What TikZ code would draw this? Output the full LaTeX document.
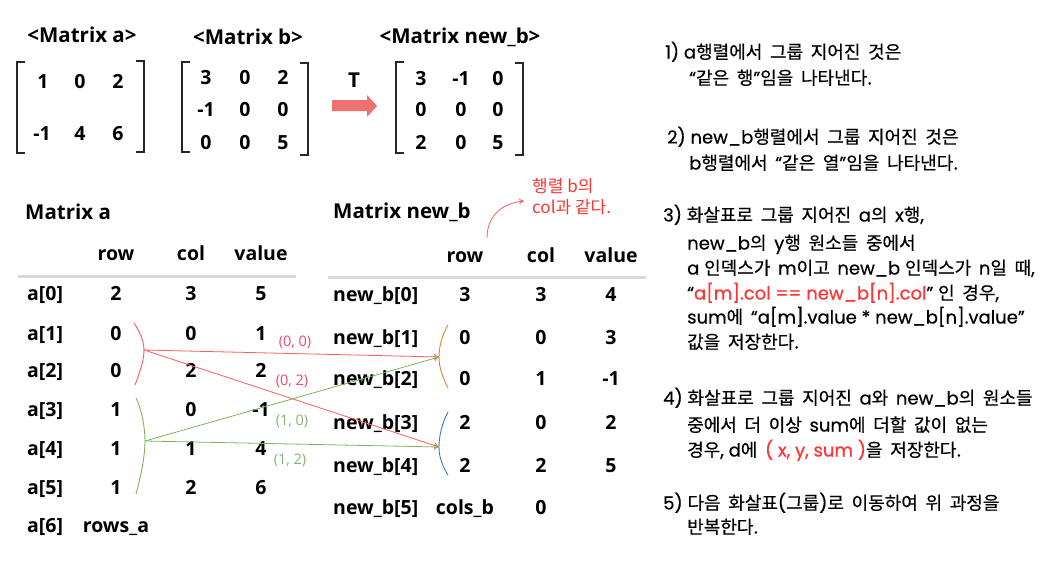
\documentclass[tikz,border=0pt]{standalone}
\usepackage{fontspec}
\usetikzlibrary{arrows.meta}
\newfontfamily\osfont{Open Sans}
\newfontfamily\krfont{Noto Sans CJK KR}
\newfontfamily\krbfont[FakeBold=0.5,WordSpace=1.9]{Noto Sans CJK KR}
\newfontfamily\latfont[FakeBold=0.5]{Poppins}
\definecolor{brk}{HTML}{262626}
\definecolor{tline}{HTML}{D9D9D9}
\definecolor{blockred}{HTML}{EE7070}
\definecolor{lred}{HTML}{FF5A5A}
\definecolor{lgreen}{HTML}{7DB356}
\definecolor{borange}{HTML}{ED7D31}
\definecolor{bblue}{HTML}{4472C4}
\definecolor{labred}{HTML}{F04868}
\definecolor{labgreen}{HTML}{86B27A}
\definecolor{txtred}{HTML}{FF3333}
\newcommand\TB{\osfont\bfseries\fontsize{19.5pt}{23pt}\selectfont}
\newcommand\HB{\osfont\bfseries\fontsize{20.5pt}{24pt}\selectfont}
\newcommand\RT{\latfont\fontsize{18pt}{22pt}\selectfont}
\newcommand\K[1]{{\krbfont #1}}
\newcommand\R[1]{{\color{txtred}#1}}
\tikzset{
  cell/.style={font=\TB, inner sep=0pt, text height=14pt, text depth=0pt, anchor=center},
  lcell/.style={cell, anchor=west},
  head/.style={font=\HB, inner sep=0pt, anchor=center},
  brk/.style={draw=brk, line width=2pt},
  tl/.style={draw=tline, line width=3pt},
  rline/.style={font=\RT, inner sep=0pt, anchor=base west},
  pairlab/.style={font=\osfont\fontsize{14.5pt}{17pt}\selectfont, inner sep=0pt, anchor=center},
  conn/.style={line width=0.8pt, -{To[length=5pt,width=6pt]}},
  brace/.style={line width=0.9pt},
}
\begin{document}
\begin{tikzpicture}[x=1pt,y=-1pt]
\useasboundingbox (0,0) rectangle (1054,565);
% ---------- matrices ----------
\node[head] (ha) at (82,35) {<Matrix a>};
\node[head] (hb) at (248,37) {<Matrix b>};
\node[head] (hn) at (460,37) {<Matrix new\_b>};
% matrix a
\draw[brk] (25,62) -- (17,62) -- (17,153) -- (25,153);
\draw[brk] (136,61) -- (144,61) -- (144,152) -- (136,152);
\node[cell] (ma11) at (43,81) {1};
\node[cell] (ma12) at (80,81) {0};
\node[cell] (ma13) at (118,81) {2};
\node[cell] (ma21) at (42,133) {-1};
\node[cell] (ma22) at (80,133) {4};
\node[cell] (ma23) at (118,133) {6};
% matrix b
\draw[brk] (190,62) -- (182,62) -- (182,152) -- (190,152);
\draw[brk] (300,63) -- (308,63) -- (308,155) -- (300,155);
\foreach \a/\b/\c/\y [count=\i] in {3/0/2/77,-1/0/0/109,0/0/5/142}{
  \node[cell] (mb\i1) at (206,\y) {\a};
  \node[cell] (mb\i2) at (245,\y) {\b};
  \node[cell] (mb\i3) at (283,\y) {\c};
}
% transpose arrow
\node[head] (T) at (354,80) {T};
\fill[blockred] (332,100) -- (367,100) -- (367,95) -- (377,106) -- (367,117) -- (367,111) -- (332,111) -- cycle;
% matrix new_b
\draw[brk] (404,62) -- (396,62) -- (396,153) -- (404,153);
\draw[brk] (515,63) -- (523,63) -- (523,155) -- (515,155);
\foreach \a/\b/\c/\y [count=\i] in {3/-1/0/78,0/0/0/109,2/0/5/142}{
  \node[cell] (mn\i1) at (421,\y) {\a};
  \node[cell] (mn\i2) at (461,\y) {\b};
  \node[cell] (mn\i3) at (498,\y) {\c};
}
% ---------- table a ----------
\node[head, anchor=west] (ta) at (25,212) {Matrix a};
\node[cell] (tarh) at (116,253) {row};
\node[cell] (tach) at (191,253) {col};
\node[cell] (tavh) at (261,253) {value};
\draw[tl] (18,276) -- (296,276);
\foreach \r/\c/\v/\y [count=\i from 0] in {2/3/5/293,0/0/1/333,0/2/2/370,1/0/-1/409,1/1/4/448,1/2/6/487}{
  \node[lcell] (al\i) at (27,\y) {a[\i]};
  \node[cell] (ar\i) at (116,\y) {\r};
  \node[cell] (ac\i) at (191,\y) {\c};
  \node[cell] (av\i) at (261,\y) {\v};
}
\node[lcell] (al6) at (27,525) {a[6]};
\node[cell] (ar6) at (116,525) {rows\_a};
% ---------- table new_b ----------
\node[head, anchor=west] (tn) at (333,212) {Matrix new\_b};
\node[cell] (tnrh) at (465,255) {row};
\node[cell] (tnch) at (541,255) {col};
\node[cell] (tnvh) at (611,255) {value};
\draw[tl] (328,277) -- (646,277);
\foreach \r/\c/\v/\y [count=\i from 0] in {3/3/4/294,0/0/3/337,0/1/-1/378,2/0/2/422,2/2/5/465}{
  \node[lcell] (nl\i) at (333,\y) {new\_b[\i]};
  \node[cell] (nr\i) at (465,\y) {\r};
  \node[cell] (nc\i) at (541,\y) {\c};
  \node[cell] (nv\i) at (611,\y) {\v};
}
\node[lcell] (nl5) at (333,507) {new\_b[5]};
\node[cell] (nr5) at (465,507) {cols\_b};
\node[cell] (nc5) at (541,507) {0};
% annotation
\node[font=\krfont\fontsize{17pt}{21pt}\selectfont, text=txtred, align=left, inner sep=0pt, anchor=west] (ann) at (532,197) {행렬 b의\\col과 같다.};
\coordinate (annS) at (487,238);
\coordinate (annE) at (524,201);
\draw[lred, line width=0.8pt, -{To[length=5pt,width=6pt]}] (annS) .. controls (487,215) and (503,203) .. (annE);
% ---------- braces ----------
\coordinate (ra) at (144,350);
\coordinate (ga) at (145,441);
\coordinate (ob) at (439,357);
\coordinate (bb) at (439,447);
\draw[brace, lred] (134,323) .. controls (140,332) and (144,342) .. (ra) .. controls (144,360) and (140,372) .. (135,385);
\draw[brace, lgreen] (136,398) .. controls (142,410) and (145,428) .. (ga) .. controls (145,456) and (141,476) .. (136,494);
\draw[brace, borange] (448,325) .. controls (442,335) and (439,347) .. (ob) .. controls (439,368) and (443,378) .. (448,388);
\draw[brace, bblue] (448,412) .. controls (442,423) and (439,436) .. (bb) .. controls (439,458) and (443,467) .. (448,475);
% connectors
\draw[conn, lred] (ra) -- (ob);
\draw[conn, lred] (ra) -- (bb);
\draw[conn, lgreen] (ga) -- (ob);
\draw[conn, lgreen] (ga) -- (bb);
\node[pairlab, text=labred] (p00) at (295,342) {(0, 0)};
\node[pairlab, text=labred] (p02) at (292,381) {(0, 2)};
\node[pairlab, text=labgreen] (p10) at (292,421) {(1, 0)};
\node[pairlab, text=labgreen] (p12) at (290,460) {(1, 2)};
% ---------- right text ----------
\node[rline] (t1a) at (665,58.5) {1) a\K{행렬에서 그룹 지어진 것은}};
\node[rline] (t1b) at (689,84.5) {“\K{같은 행}”\K{임을 나타낸다.}};
\node[rline] (t2a) at (667,143.5) {2) new\_b\K{행렬에서 그룹 지어진 것은}};
\node[rline] (t2b) at (689,169.5) {b\K{행렬에서 }“\K{같은 열}”\K{임을 나타낸다.}};
\node[rline] (t3a) at (663,221.5) {3) \K{화살표로 그룹 지어진 }a\K{의 }x\K{행},};
\node[rline] (t3b) at (687,249.5) {new\_b\K{의 }y\K{행 원소들 중에서}};
\node[rline] (t3c) at (687,274.5) {a \K{인덱스가 }m\K{이고 }new\_b \K{인덱스가 }n\K{일 때},};
\node[rline] (t3d) at (687,299.5) {“\R{a[m].col == new\_b[n].col}” \K{인 경우},};
\node[rline] (t3e) at (687,323.5) {sum\K{에 }“a[m].value * new\_b[n].value”};
\node[rline] (t3f) at (687,348.5) {\K{값을 저장한다.}};
\node[rline] (t4a) at (663,404.5) {4) \K{화살표로 그룹 지어진 }a\K{와 }new\_b\K{의 원소들}};
\node[rline] (t4b) at (687,431.5) {\K{중에서 더 이상 }sum\K{에 더할 값이 없는}};
\node[rline] (t4c) at (687,456.5) {\K{경우}, d\K{에 }\R{( x, y, sum )}\K{을 저장한다.}};
\node[rline] (t5a) at (663,509.5) {5) \K{다음 화살표}(\K{그룹})\K{로 이동하여 위 과정을}};
\node[rline] (t5b) at (687,533.5) {\K{반복한다.}};
\end{tikzpicture}
\end{document}
